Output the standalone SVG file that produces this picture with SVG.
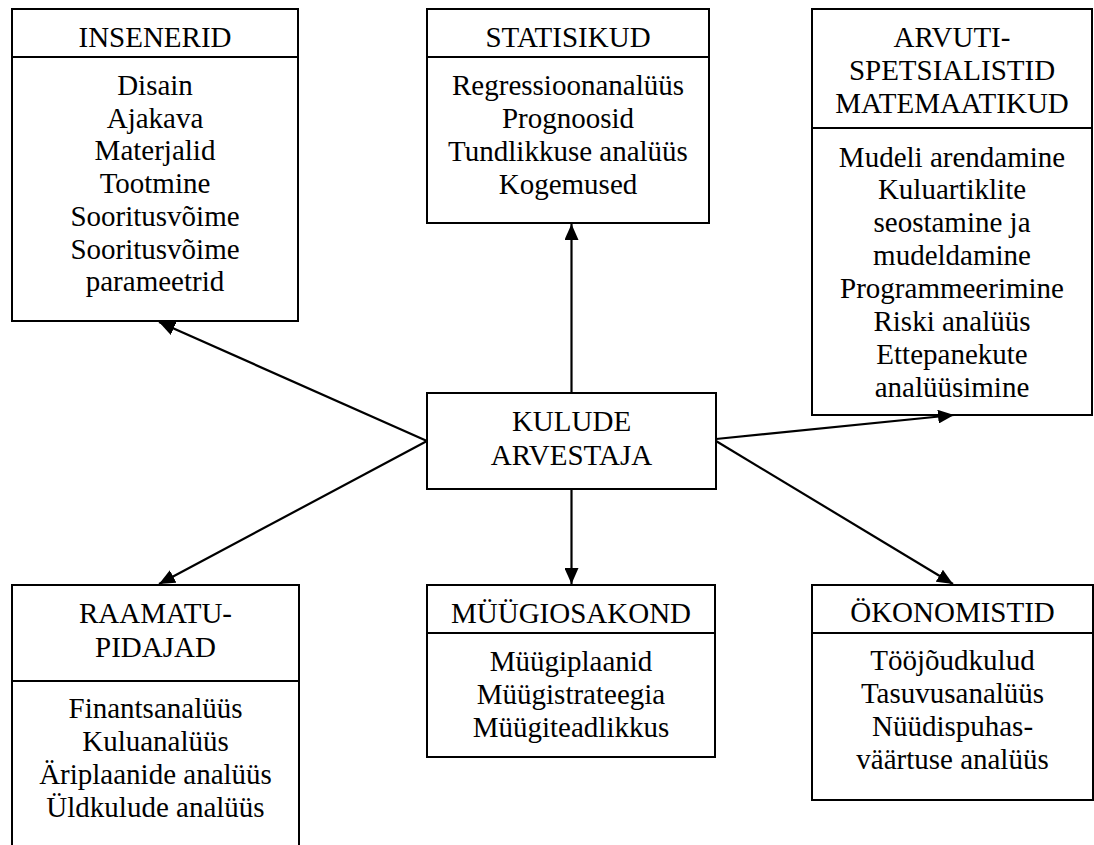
<svg xmlns="http://www.w3.org/2000/svg" width="1094" height="845" viewBox="0 0 1094 845">
  <style>
    .box { fill: #fff; stroke: #000; stroke-width: 2; }
    .sep { stroke: #000; stroke-width: 2; }
    .lbl { font-size: 29px; fill: #000; text-anchor: middle; }
    .link { stroke: #000; stroke-width: 2.2; fill: none; marker-end: url(#head); }
  </style>
  <defs>
    <marker id="head" markerUnits="userSpaceOnUse" markerWidth="16" markerHeight="14" viewBox="0 0 16 14" refX="16" refY="7" orient="auto">
      <path d="M0,0 L16,7 L0,14 Z" fill="#000"/>
    </marker>
  </defs>
  <rect width="1094" height="845" fill="#fff"/>

  <g font-family="Liberation Serif, DejaVu Serif, serif">
  <g id="insenerid">
    <rect class="box" x="12" y="9" width="286" height="312"/>
    <line class="sep" x1="12" y1="57" x2="298" y2="57"/>
    <text class="lbl" x="155" y="47">INSENERID</text>
    <text class="lbl" x="155" y="95">Disain</text>
    <text class="lbl" x="155" y="127.7">Ajakava</text>
    <text class="lbl" x="155" y="160.4">Materjalid</text>
    <text class="lbl" x="155" y="193.1">Tootmine</text>
    <text class="lbl" x="155" y="225.8">Sooritusvõime</text>
    <text class="lbl" x="155" y="258.5">Sooritusvõime</text>
    <text class="lbl" x="155" y="291.2">parameetrid</text>
  </g>

  <g id="statisikud">
    <rect class="box" x="427" y="9" width="282" height="214"/>
    <line class="sep" x1="427" y1="57" x2="709" y2="57"/>
    <text class="lbl" x="568" y="47">STATISIKUD</text>
    <text class="lbl" x="568" y="95">Regressioonanalüüs</text>
    <text class="lbl" x="568" y="128">Prognoosid</text>
    <text class="lbl" x="568" y="161">Tundlikkuse analüüs</text>
    <text class="lbl" x="568" y="194">Kogemused</text>
  </g>

  <g id="arvutispetsialistid">
    <rect class="box" x="812" y="9" width="280" height="406"/>
    <line class="sep" x1="812" y1="128" x2="1092" y2="128"/>
    <text class="lbl" x="952" y="47">ARVUTI-</text>
    <text class="lbl" x="952" y="80">SPETSIALISTID</text>
    <text class="lbl" x="952" y="113">MATEMAATIKUD</text>
    <text class="lbl" x="952" y="166.5">Mudeli arendamine</text>
    <text class="lbl" x="952" y="199.4">Kuluartiklite</text>
    <text class="lbl" x="952" y="232.3">seostamine ja</text>
    <text class="lbl" x="952" y="265.2">mudeldamine</text>
    <text class="lbl" x="952" y="298.1">Programmeerimine</text>
    <text class="lbl" x="952" y="331">Riski analüüs</text>
    <text class="lbl" x="952" y="363.9">Ettepanekute</text>
    <text class="lbl" x="952" y="396.8">analüüsimine</text>
  </g>

  <g id="kulude-arvestaja">
    <rect class="box" x="427" y="393" width="289" height="96"/>
    <text class="lbl" x="571.5" y="431">KULUDE</text>
    <text class="lbl" x="571.5" y="465">ARVESTAJA</text>
  </g>

  <g id="raamatupidajad">
    <rect class="box" x="12" y="585" width="287" height="270"/>
    <line class="sep" x1="12" y1="681" x2="299" y2="681"/>
    <text class="lbl" x="155.5" y="623">RAAMATU-</text>
    <text class="lbl" x="155.5" y="657">PIDAJAD</text>
    <text class="lbl" x="155.5" y="718">Finantsanalüüs</text>
    <text class="lbl" x="155.5" y="751">Kuluanalüüs</text>
    <text class="lbl" x="155.5" y="784">Äriplaanide analüüs</text>
    <text class="lbl" x="155.5" y="817">Üldkulude analüüs</text>
  </g>

  <g id="myygiosakond">
    <rect class="box" x="427" y="585" width="288" height="172"/>
    <line class="sep" x1="427" y1="633" x2="715" y2="633"/>
    <text class="lbl" x="571" y="623">MÜÜGIOSAKOND</text>
    <text class="lbl" x="571" y="671">Müügiplaanid</text>
    <text class="lbl" x="571" y="704">Müügistrateegia</text>
    <text class="lbl" x="571" y="737">Müügiteadlikkus</text>
  </g>

  <g id="okonomistid">
    <rect class="box" x="812" y="585" width="281" height="215"/>
    <line class="sep" x1="812" y1="633" x2="1093" y2="633"/>
    <text class="lbl" x="952.5" y="622">ÖKONOMISTID</text>
    <text class="lbl" x="952.5" y="670">Tööjõudkulud</text>
    <text class="lbl" x="952.5" y="703">Tasuvusanalüüs</text>
    <text class="lbl" x="952.5" y="736">Nüüdispuhas-</text>
    <text class="lbl" x="952.5" y="769">väärtuse analüüs</text>
  </g>
  </g>

  <g id="connectors">
    <line class="link" x1="571.5" y1="393" x2="571.5" y2="224"/>
    <line class="link" x1="571.5" y1="489" x2="571.5" y2="584"/>
    <line class="link" x1="427" y1="441" x2="159" y2="322"/>
    <line class="link" x1="427" y1="441" x2="159" y2="584"/>
    <line class="link" x1="716" y1="439" x2="954" y2="415"/>
    <line class="link" x1="716" y1="441" x2="953" y2="584"/>
  </g>
</svg>
